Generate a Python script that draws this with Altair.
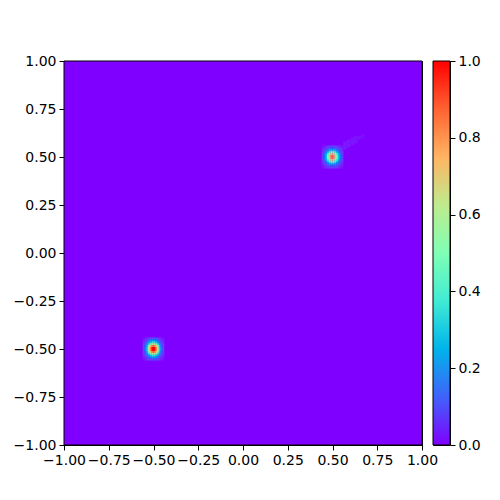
import altair as alt
import pandas as pd

# ---- data ----
x_range = [-1.0, 1.0]
y_range = [-1.0, 1.0]
background_value = 0.0

# blob centres
blob_a_center = [0.5, 0.5]
blob_b_center = [-0.5, -0.5]
cell = 0.01  # grid step (data units)

# values of the 12x12 cells around each blob (rows top -> bottom, cols left -> right)
blob_a = [
    [0.005, 0.012, 0.025, 0.04, 0.055, 0.065, 0.065, 0.055, 0.04, 0.025, 0.012, 0.005],
    [0.012, 0.03, 0.055, 0.09, 0.13, 0.15, 0.15, 0.13, 0.09, 0.055, 0.03, 0.012],
    [0.025, 0.055, 0.11, 0.18, 0.25, 0.3, 0.3, 0.25, 0.18, 0.11, 0.055, 0.025],
    [0.04, 0.09, 0.18, 0.3, 0.42, 0.5, 0.5, 0.42, 0.3, 0.18, 0.09, 0.04],
    [0.055, 0.13, 0.25, 0.42, 0.6, 0.72, 0.72, 0.6, 0.42, 0.25, 0.13, 0.055],
    [0.065, 0.15, 0.3, 0.5, 0.72, 0.85, 0.85, 0.72, 0.5, 0.3, 0.15, 0.065],
    [0.065, 0.15, 0.3, 0.5, 0.72, 0.85, 0.85, 0.72, 0.5, 0.3, 0.15, 0.065],
    [0.055, 0.13, 0.25, 0.42, 0.6, 0.72, 0.72, 0.6, 0.42, 0.25, 0.13, 0.055],
    [0.04, 0.09, 0.18, 0.3, 0.42, 0.5, 0.5, 0.42, 0.3, 0.18, 0.09, 0.04],
    [0.025, 0.055, 0.11, 0.18, 0.25, 0.3, 0.3, 0.25, 0.18, 0.11, 0.055, 0.025],
    [0.012, 0.03, 0.055, 0.09, 0.13, 0.15, 0.15, 0.13, 0.09, 0.055, 0.03, 0.012],
    [0.005, 0.012, 0.025, 0.04, 0.055, 0.065, 0.065, 0.055, 0.04, 0.025, 0.012, 0.005],
]
blob_b = [
    [0.005, 0.015, 0.03, 0.05, 0.07, 0.08, 0.08, 0.07, 0.05, 0.03, 0.015, 0.005],
    [0.015, 0.035, 0.07, 0.12, 0.17, 0.2, 0.2, 0.17, 0.12, 0.07, 0.035, 0.015],
    [0.03, 0.065, 0.13, 0.22, 0.31, 0.37, 0.37, 0.31, 0.22, 0.13, 0.065, 0.03],
    [0.045, 0.1, 0.21, 0.36, 0.5, 0.6, 0.6, 0.5, 0.36, 0.21, 0.1, 0.045],
    [0.06, 0.15, 0.29, 0.5, 0.71, 0.85, 0.85, 0.71, 0.5, 0.29, 0.15, 0.06],
    [0.07, 0.17, 0.34, 0.58, 0.84, 1.0, 1.0, 0.84, 0.58, 0.34, 0.17, 0.07],
    [0.07, 0.17, 0.34, 0.58, 0.84, 1.0, 1.0, 0.84, 0.58, 0.34, 0.17, 0.07],
    [0.06, 0.15, 0.29, 0.5, 0.71, 0.85, 0.85, 0.71, 0.5, 0.29, 0.15, 0.06],
    [0.045, 0.1, 0.21, 0.36, 0.5, 0.6, 0.6, 0.5, 0.36, 0.21, 0.1, 0.045],
    [0.03, 0.065, 0.13, 0.22, 0.31, 0.37, 0.37, 0.31, 0.22, 0.13, 0.065, 0.03],
    [0.015, 0.035, 0.07, 0.12, 0.17, 0.2, 0.2, 0.17, 0.12, 0.07, 0.035, 0.015],
    [0.005, 0.015, 0.03, 0.05, 0.07, 0.08, 0.08, 0.07, 0.05, 0.03, 0.015, 0.005],
]

# very faint diffuse haze up-right of the upper blob
tail_cell = 0.02
tail_x = [0.55, 0.57, 0.57, 0.59, 0.59, 0.61, 0.61, 0.63, 0.63, 0.65, 0.67]
tail_y = [0.55, 0.55, 0.57, 0.56, 0.58, 0.57, 0.59, 0.58, 0.60, 0.60, 0.61]
tail_v = [0.012, 0.011, 0.01, 0.009, 0.009, 0.008, 0.007, 0.007, 0.006, 0.005, 0.004]

tick_values = [-1.0, -0.75, -0.5, -0.25, 0.0, 0.25, 0.5, 0.75, 1.0]
cbar_ticks = [0.0, 0.2, 0.4, 0.6, 0.8, 1.0]

# matplotlib "rainbow" colormap stops
cmap_stops = [0, 0.125, 0.25, 0.375, 0.5, 0.625, 0.75, 0.875, 1.0]
cmap_colors = ["#8000ff", "#4062fa", "#00b4eb", "#40ebd4", "#80ffb4",
               "#bfeb8e", "#ffb462", "#ff6232", "#ff0000"]

# ---- build table ----
rows = [dict(x=x_range[0], x2=x_range[1], y=y_range[0], y2=y_range[1], v=background_value)]
for tx, ty, tv in zip(tail_x, tail_y, tail_v):
    h = tail_cell / 2
    rows.append(dict(x=tx - h, x2=tx + h, y=ty - h, y2=ty + h, v=tv))
for center, grid in [(blob_a_center, blob_a), (blob_b_center, blob_b)]:
    n = len(grid)
    half = (n - 1) / 2
    for r, row in enumerate(grid):
        j = half - r
        for c, val in enumerate(row):
            if val <= 0:
                continue
            i = c - half
            cx = center[0] + i * cell
            cy = center[1] + j * cell
            h = cell / 2 * 1.05
            rows.append(dict(x=cx - h, x2=cx + h, y=cy - h, y2=cy + h, v=val))
df = pd.DataFrame(rows)
frame_df = pd.DataFrame({"x": [x_range[0]], "x2": [x_range[1]], "y": [y_range[0]], "y2": [y_range[1]]})

FONT = "DejaVu Sans"
FS = 14

axis_kw = dict(format=".2f", title=None, grid=False,
               tickSize=5, labelPadding=3, labelFontSize=FS, labelFont=FONT,
               labelColor="black", tickColor="black", domainColor="black",
               labelFlush=False)

xs = alt.Scale(domain=x_range, nice=False, zero=False)
ys = alt.Scale(domain=y_range, nice=False, zero=False)

heat = alt.Chart(df).mark_rect(strokeWidth=0).encode(
    x=alt.X("x:Q", scale=xs, axis=alt.Axis(values=tick_values, **axis_kw)),
    x2="x2:Q",
    y=alt.Y("y:Q", scale=ys, axis=alt.Axis(values=tick_values, **axis_kw)),
    y2="y2:Q",
    color=alt.Color("v:Q", scale=alt.Scale(domain=cmap_stops, range=cmap_colors),
                    legend=None),
)
frame = alt.Chart(frame_df).mark_rect(fillOpacity=0, stroke="black", strokeWidth=1).encode(
    x=alt.X("x:Q", scale=xs), x2="x2:Q", y=alt.Y("y:Q", scale=ys), y2="y2:Q",
)
main = alt.layer(heat, frame).properties(width=358, height=384)

# colorbar: one rect filled with the colormap as a gradient, with its own axis
cbar_df = pd.DataFrame({"x": [0.0], "x2": [1.0], "y": [0.0], "y2": [1.0]})
gradient = alt.LinearGradient(
    gradient="linear", x1=0, y1=1, x2=0, y2=0,
    stops=[alt.GradientStop(offset=o, color=c) for o, c in zip(cmap_stops, cmap_colors)],
)
cbar = alt.Chart(cbar_df).mark_rect(fill=gradient, stroke="black", strokeWidth=1).encode(
    x=alt.X("x:Q", scale=alt.Scale(domain=[0, 1], nice=False, zero=False), axis=None),
    x2="x2:Q",
    y=alt.Y("y:Q", scale=alt.Scale(domain=[0, 1], nice=False, zero=False),
            axis=alt.Axis(values=cbar_ticks, orient="right", format=".1f", title=None,
                          grid=False, tickSize=5, labelPadding=3, labelFontSize=FS,
                          labelFont=FONT, labelColor="black", tickColor="black",
                          domain=False, labelFlush=False)),
    y2="y2:Q",
).properties(width=17, height=384)

chart = alt.hconcat(main, cbar, spacing=11, bounds="flush").properties(
    padding={"left": 4, "top": 45, "right": 0, "bottom": 0},
).configure_view(stroke="black", strokeWidth=1)

chart.save("out.html", embed_options={"renderer": "svg", "actions": False})
